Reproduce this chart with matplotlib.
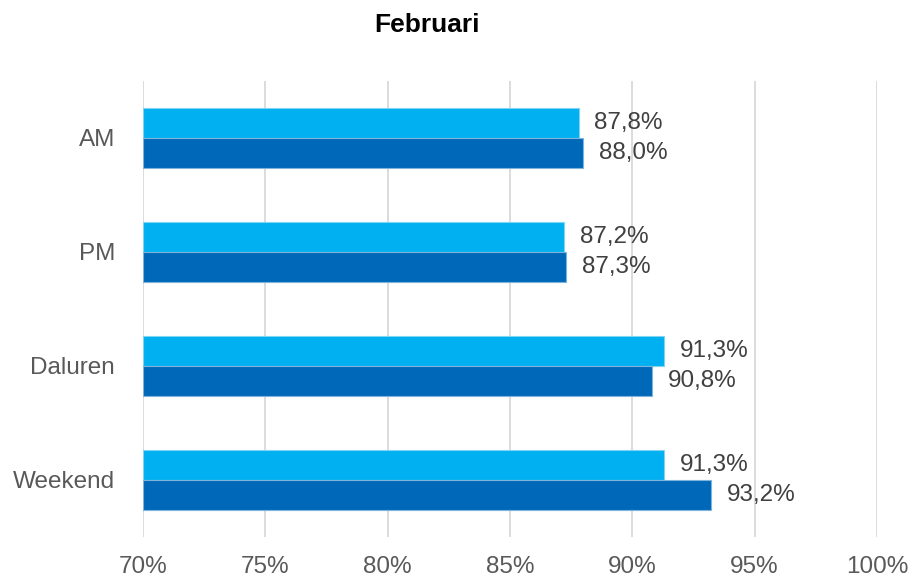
import matplotlib
matplotlib.use("Agg")
import matplotlib.pyplot as plt
import numpy as np

categories = ["AM", "PM", "Daluren", "Weekend"]
series_light = [87.8, 87.2, 91.3, 91.3]
series_dark = [88.0, 87.3, 90.8, 93.2]
xticks = [70, 75, 80, 85, 90, 95, 100]
title = "Februari"

plt.rcParams['font.family'] = ['Liberation Sans', 'DejaVu Sans']

fig = plt.figure(figsize=(9.13, 5.77), dpi=100)
ax = fig.add_axes([143/913, 1-537/577, (877-143)/913, (537-81)/577])

y = np.arange(len(categories))
h = 0.263
c_light = "#00B0F0"
c_dark = "#0068B8"
left = 70
ax.barh(y - h/2, np.array(series_light) - left, left=left, height=h, color=c_light,
        edgecolor="#7fd3f5", linewidth=0.8, zorder=3)
ax.barh(y + h/2, np.array(series_dark) - left, left=left, height=h, color=c_dark,
        edgecolor="#7fb3dc", linewidth=0.8, zorder=3)

for yi, v in zip(y, series_light):
    ax.annotate(f"{v:.1f}%".replace(".", ","), (v, yi - h/2), xytext=(11.5, 0),
                textcoords="offset points", va="center", ha="left",
                fontsize=17.5, color="#404040")
for yi, v in zip(y, series_dark):
    ax.annotate(f"{v:.1f}%".replace(".", ","), (v, yi + h/2), xytext=(11.5, 0),
                textcoords="offset points", va="center", ha="left",
                fontsize=17.5, color="#404040")

ax.set_xlim(70, 100)
ax.set_ylim(3.5, -0.5)
ax.set_xticks(xticks)
ax.set_xticklabels([f"{t}%" for t in xticks], fontsize=17.5, color="#595959")
ax.set_yticks(y)
ax.set_yticklabels(categories, fontsize=17.5, color="#595959")
ax.tick_params(axis="x", length=0, pad=13.5)
ax.tick_params(axis="y", length=0, pad=20)
ax.grid(axis="x", color="#D9D9D9", linewidth=1.3, zorder=0)
ax.set_axisbelow(True)
for s in ax.spines.values():
    s.set_visible(False)

fig.text(427/913, 1-25/577, title, ha="center", va="center", fontsize=19,
         fontweight="bold", color="black")

fig.savefig("out.png", dpi=100)
